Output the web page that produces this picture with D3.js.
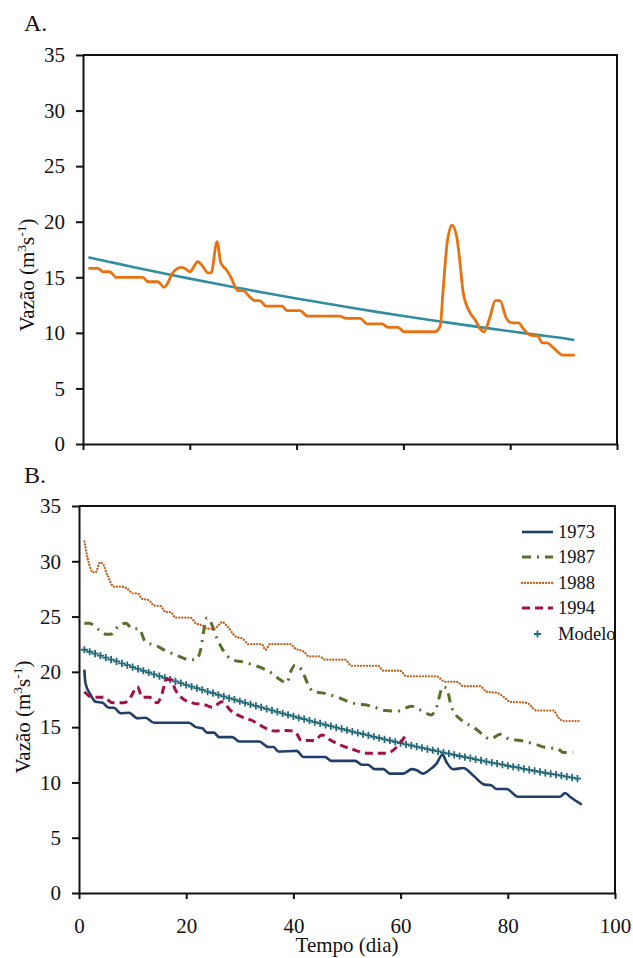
<!DOCTYPE html>
<html>
<head>
<meta charset="utf-8">
<script src="https://cdn.jsdelivr.net/npm/d3@7"></script>
<style>
  html, body { margin: 0; padding: 0; background: #fff; }
  svg { display: block; font-family: "Liberation Serif", "Times New Roman", Times, serif; }
  svg text { fill: #111; }
</style>
</head>
<body>
<svg id="chart" width="633" height="958"></svg>
<script>
// ---------- DATA ----------
// Panel A: observed flow (orange)
const obsADays = [1,2.8,3.7,5,6.2,11.2,12.2,14,15.2,15.9,16.8,18.4,19.1,20,21.5,22.4,23.4,24,25.1,25.8,26.8,27.7,29,30,31.3,32.2,33.1,34.3,37.3,38.2,40.6,42.1,48,49.3,51.9,53.2,56,57.1,59,60.1,65.9,66.9,67.4,68.2,69.1,70,70.6,71.2,72.5,73.4,74.3,75.1,76.2,77.2,78.1,79.2,80.3,81.6,82.4,83.7,85.2,86,86.9,88,89.9,92.1];
const obsAValues = [15.8,15.8,15.5,15.5,15.0,15.0,14.6,14.6,14.1,14.5,15.4,15.9,15.8,15.5,16.4,16.0,15.4,15.4,18.2,16.3,15.7,15.0,13.8,13.8,13.2,12.9,12.9,12.4,12.4,12.0,12.0,11.5,11.5,11.3,11.3,10.8,10.8,10.5,10.5,10.1,10.1,10.6,13.6,18.1,19.7,18.6,16.3,13.6,11.8,11.2,10.4,10.1,11.4,12.9,12.9,11.4,10.9,10.9,10.4,9.8,9.7,9.1,9.1,8.7,8.0,8.0];
// Panel A: model (teal)
const modelADays = [1,5,10,15,20,25,30,35,40,45,50,55,60,65,70,75,80,85,90,92];
const modelAValues = [16.8,16.38,15.86,15.36,14.88,14.41,13.96,13.51,13.09,12.68,12.28,11.89,11.52,11.16,10.81,10.47,10.14,9.82,9.51,9.35];

// Panel B series
const days1973 = [1,1.2,2.2,3.1,4.4,5.6,6.5,7.8,9.3,10.9,12.4,14,20.5,21.8,23,23.9,25.2,26.1,28.6,29.9,33.6,35.3,36.3,37.2,40.6,41.9,45.9,47.1,51.5,52.8,53.9,55.2,56.8,58,60.5,62.1,63,64.2,65.3,66.7,67.8,68.6,69.8,71.7,73.6,75.7,76.9,77.9,79.8,81.9,89.7,90.7,91.6,93.8];
const values1973 = [20.2,19.0,17.9,17.3,17.2,16.75,16.75,16.25,16.3,15.8,15.85,15.4,15.4,15.0,14.9,14.5,14.5,14.1,14.1,13.7,13.7,13.2,13.2,12.8,12.85,12.3,12.3,11.95,11.95,11.6,11.6,11.2,11.2,10.8,10.8,11.2,11.1,10.8,11.1,11.7,12.5,11.8,11.2,11.3,10.6,9.8,9.75,9.4,9.4,8.7,8.7,9.05,8.7,8.0];

const days1987 = [1,1.9,3.7,5,5.9,7.5,8.7,10,11.2,12.4,14.3,16.2,18.7,20.5,21.8,22.7,23.3,23.9,24.5,25.5,26.7,28.6,30.5,33,35.9,37.5,38.8,39.4,40.3,41.5,42.8,43.7,45.3,48,50.9,54.6,57.1,59.5,62,63.9,65.7,66.7,67.9,68.6,69.5,71.7,73.6,75.4,76.7,78.6,80.4,82.3,84.8,87.9,89.1,90.4,92.2];
const values1987 = [24.4,24.4,23.8,23.4,23.4,24.2,24.4,23.9,23.9,22.7,22.4,21.9,21.4,21.1,21.1,22.0,23.8,24.9,24.6,23.3,22.1,21.1,20.9,20.55,19.9,19.3,19.0,19.9,20.6,20.2,18.8,18.2,18.1,17.75,17.2,16.9,16.5,16.45,16.9,16.5,16.1,16.8,18.65,18.5,16.8,15.5,15.0,14.3,13.9,14.35,13.9,13.8,13.5,13.1,13.1,12.7,12.7];

const days1988 = [1,1.7,2.6,3.1,3.9,4.4,5.3,6.5,8.1,9.3,10,10.9,11.8,13,14,15.2,16.2,17.1,18,20.8,21.8,23,23.9,25.2,25.8,26.7,27.7,29.2,30.5,31.7,34.1,34.8,35.6,39.5,40.1,42,42.9,44.9,45.9,49.6,50.9,55.8,56.8,59.9,61.1,66.7,68.3,70.5,71.7,74.8,76.1,78,79.2,80.4,83.5,85.4,88.5,89.4,90.4,93.5];
const values1988 = [31.8,30.1,29.0,29.0,29.9,29.8,28.75,27.7,27.7,27.4,27.1,27.1,26.6,26.5,26.0,25.95,25.4,25.4,24.9,24.9,24.4,24.2,23.9,23.9,24.1,24.5,24.1,23.2,23.0,22.5,22.5,22.0,22.5,22.5,22.2,21.8,21.4,21.4,21.1,21.1,20.55,20.55,20.1,20.1,19.6,19.6,19.1,19.1,18.7,18.7,18.2,18.1,17.75,17.3,17.2,16.5,16.5,15.9,15.55,15.55];

const days1994 = [1,2.5,4.7,6.2,8.4,9.6,10.9,11.8,13.1,14.6,15.5,16.3,17.1,18,19.3,21.1,23.6,24.9,26.7,28.3,30.5,32.3,33.7,36.5,38.8,40.3,41.5,44,45.3,47,48.7,51,53.7,57.4,59.3,61];
const values1994 = [18.2,17.7,17.7,17.2,17.2,17.7,18.65,17.7,17.7,17.2,18.05,19.3,19.3,18.35,17.6,17.2,17.0,16.8,17.3,16.5,15.9,15.6,15.2,14.65,14.7,14.6,13.8,13.8,14.3,13.8,13.4,13.0,12.65,12.65,13.2,14.3];

// Panel B model (daily "+" markers, days 1..93)
const modelBValues = [
  22.00,21.82,21.64,21.46,21.29,21.11,20.94,20.77,20.60,20.43,
  20.27,20.10,19.94,19.78,19.61,19.45,19.29,19.14,18.98,18.83,
  18.67,18.52,18.37,18.22,18.07,17.92,17.78,17.63,17.49,17.34,
  17.20,17.06,16.92,16.78,16.65,16.51,16.38,16.24,16.11,15.98,
  15.85,15.72,15.59,15.46,15.34,15.21,15.09,14.96,14.84,14.72,
  14.60,14.48,14.36,14.25,14.13,14.02,13.90,13.79,13.68,13.56,
  13.45,13.34,13.23,13.13,13.02,12.91,12.81,12.70,12.60,12.49,
  12.39,12.29,12.19,12.09,11.99,11.89,11.80,11.70,11.61,11.51,
  11.42,11.33,11.23,11.14,11.05,10.96,10.87,10.78,10.70,10.61,
  10.52,10.44,10.35];
const modelBStartDay = 1;

const yTicks = [0,5,10,15,20,25,30,35];
const xTicks = [0,20,40,60,80,100];
const legendLabels = ["1973","1987","1988","1994","Modelo"];

// ---------- DRAW ----------
const FONT = '"Liberation Serif", "Times New Roman", Times, serif';
const svg = d3.select("#chart");

function zipXY(xs, ys) { return xs.map((d, i) => [d, ys[i]]); }

function panel(box, showXLabels) {
  const x = d3.scaleLinear().domain([0, 100]).range([box.left, box.right]);
  const y = d3.scaleLinear().domain([0, 35]).range([box.bottom, box.top]);
  const g = svg.append("g");
  g.append("path")
    .attr("d", `M${box.left},${box.top}H${box.right}V${box.bottom}`)
    .attr("fill", "none").attr("stroke", "#111").attr("stroke-width", 2);
  const ya = d3.axisLeft(y).tickValues(yTicks).tickSize(7).tickSizeOuter(0).tickPadding(11);
  const yg = g.append("g").attr("transform", `translate(${box.left},0)`).call(ya);
  const xa = d3.axisBottom(x).tickValues(xTicks).tickSize(6).tickSizeOuter(0).tickPadding(19);
  if (!showXLabels) xa.tickFormat("");
  const xg = g.append("g").attr("transform", `translate(0,${box.bottom})`).call(xa);
  [yg, xg].forEach(a => {
    a.attr("font-family", FONT).attr("font-size", 21);
    a.select(".domain").attr("stroke", "#111").attr("stroke-width", 2);
    a.selectAll(".tick line").attr("stroke", "#111").attr("stroke-width", 2);
    a.selectAll(".tick text").attr("fill", "#111");
  });
  return { x, y, g };
}

function yTitle(xb, yc) {
  const t = svg.append("text")
    .attr("transform", `translate(${xb},${yc}) rotate(-90)`)
    .attr("text-anchor", "middle").attr("font-size", 21).attr("font-family", FONT);
  t.append("tspan").text("Vazão (m");
  t.append("tspan").attr("dy", -8).attr("font-size", 13.5).text("3");
  t.append("tspan").attr("dy", 8).text("s");
  t.append("tspan").attr("dy", -8).attr("font-size", 13.5).text("-1");
  t.append("tspan").attr("dy", 8).text(")");
}

// Panel A
const A = panel({ left: 83, right: 617, top: 55, bottom: 444 }, false);
const lineA = d3.line().x(d => A.x(d[0])).y(d => A.y(d[1])).curve(d3.curveMonotoneX);
A.g.append("path").datum(zipXY(modelADays, modelAValues))
  .attr("d", lineA).attr("fill", "none").attr("stroke", "#328da0").attr("stroke-width", 2.6);
A.g.append("path").datum(zipXY(obsADays, obsAValues))
  .attr("d", lineA).attr("fill", "none").attr("stroke", "#e8720f").attr("stroke-width", 2.8)
  .attr("stroke-linejoin", "round");
svg.append("text").attr("x", 24).attr("y", 31).attr("font-size", 24).attr("font-family", FONT).text("A.");
yTitle(34, 275);

// Panel B
const B = panel({ left: 79, right: 615, top: 506, bottom: 893 }, true);
const lineB = d3.line().x(d => B.x(d[0])).y(d => B.y(d[1])).curve(d3.curveMonotoneX);

const seriesB = [
  { name: legendLabels[0], xs: days1973, ys: values1973, color: "#1f3e68", width: 2.6, dash: null, cap: "butt" },
  { name: legendLabels[1], xs: days1987, ys: values1987, color: "#5b6f2c", width: 3, dash: "9,6,2,6", cap: "butt" },
  { name: legendLabels[2], xs: days1988, ys: values1988, color: "#bb5e18", width: 2.3, dash: "0.01,3", cap: "round" },
  { name: legendLabels[3], xs: days1994, ys: values1994, color: "#a3114a", width: 3, dash: "8,5", cap: "butt" }
];

const modelBPts = modelBValues.map((v, i) => [modelBStartDay + i, v]);
const plusPath = "M-3.6,0H3.6M0,-3.6V3.6";
B.g.append("g").selectAll("path").data(modelBPts).join("path")
  .attr("transform", d => `translate(${B.x(d[0])},${B.y(d[1])})`)
  .attr("d", plusPath).attr("stroke", "#226879").attr("stroke-width", 1.8).attr("fill", "none");

seriesB.forEach(s => {
  const p = B.g.append("path").datum(zipXY(s.xs, s.ys))
    .attr("d", lineB).attr("fill", "none").attr("stroke", s.color)
    .attr("stroke-width", s.width).attr("stroke-linecap", s.cap).attr("stroke-linejoin", "round");
  if (s.dash) p.attr("stroke-dasharray", s.dash);
});

// legend
const legY = [532, 557, 583, 608, 634];
const leg = svg.append("g");
seriesB.forEach((s, i) => {
  const l = leg.append("line").attr("x1", 522).attr("x2", 553).attr("y1", legY[i]).attr("y2", legY[i])
    .attr("stroke", s.color).attr("stroke-width", s.width).attr("stroke-linecap", s.cap);
  if (s.dash) l.attr("stroke-dasharray", s.dash);
  leg.append("text").attr("x", 558).attr("y", legY[i]).attr("dy", "0.35em")
    .attr("font-size", 18.5).attr("font-family", FONT).text(s.name);
});
leg.append("path").attr("transform", `translate(537.5,${legY[4]})`).attr("d", plusPath)
  .attr("stroke", "#226879").attr("stroke-width", 1.8);
leg.append("text").attr("x", 558).attr("y", legY[4]).attr("dy", "0.35em")
  .attr("font-size", 18.5).attr("font-family", FONT).text(legendLabels[4]);

svg.append("text").attr("x", 24).attr("y", 483).attr("font-size", 24).attr("font-family", FONT).text("B.");
yTitle(30, 717);
svg.append("text").attr("x", 347).attr("y", 952).attr("text-anchor", "middle")
  .attr("font-size", 21).attr("font-family", FONT).text("Tempo (dia)");
</script>
</body>
</html>
